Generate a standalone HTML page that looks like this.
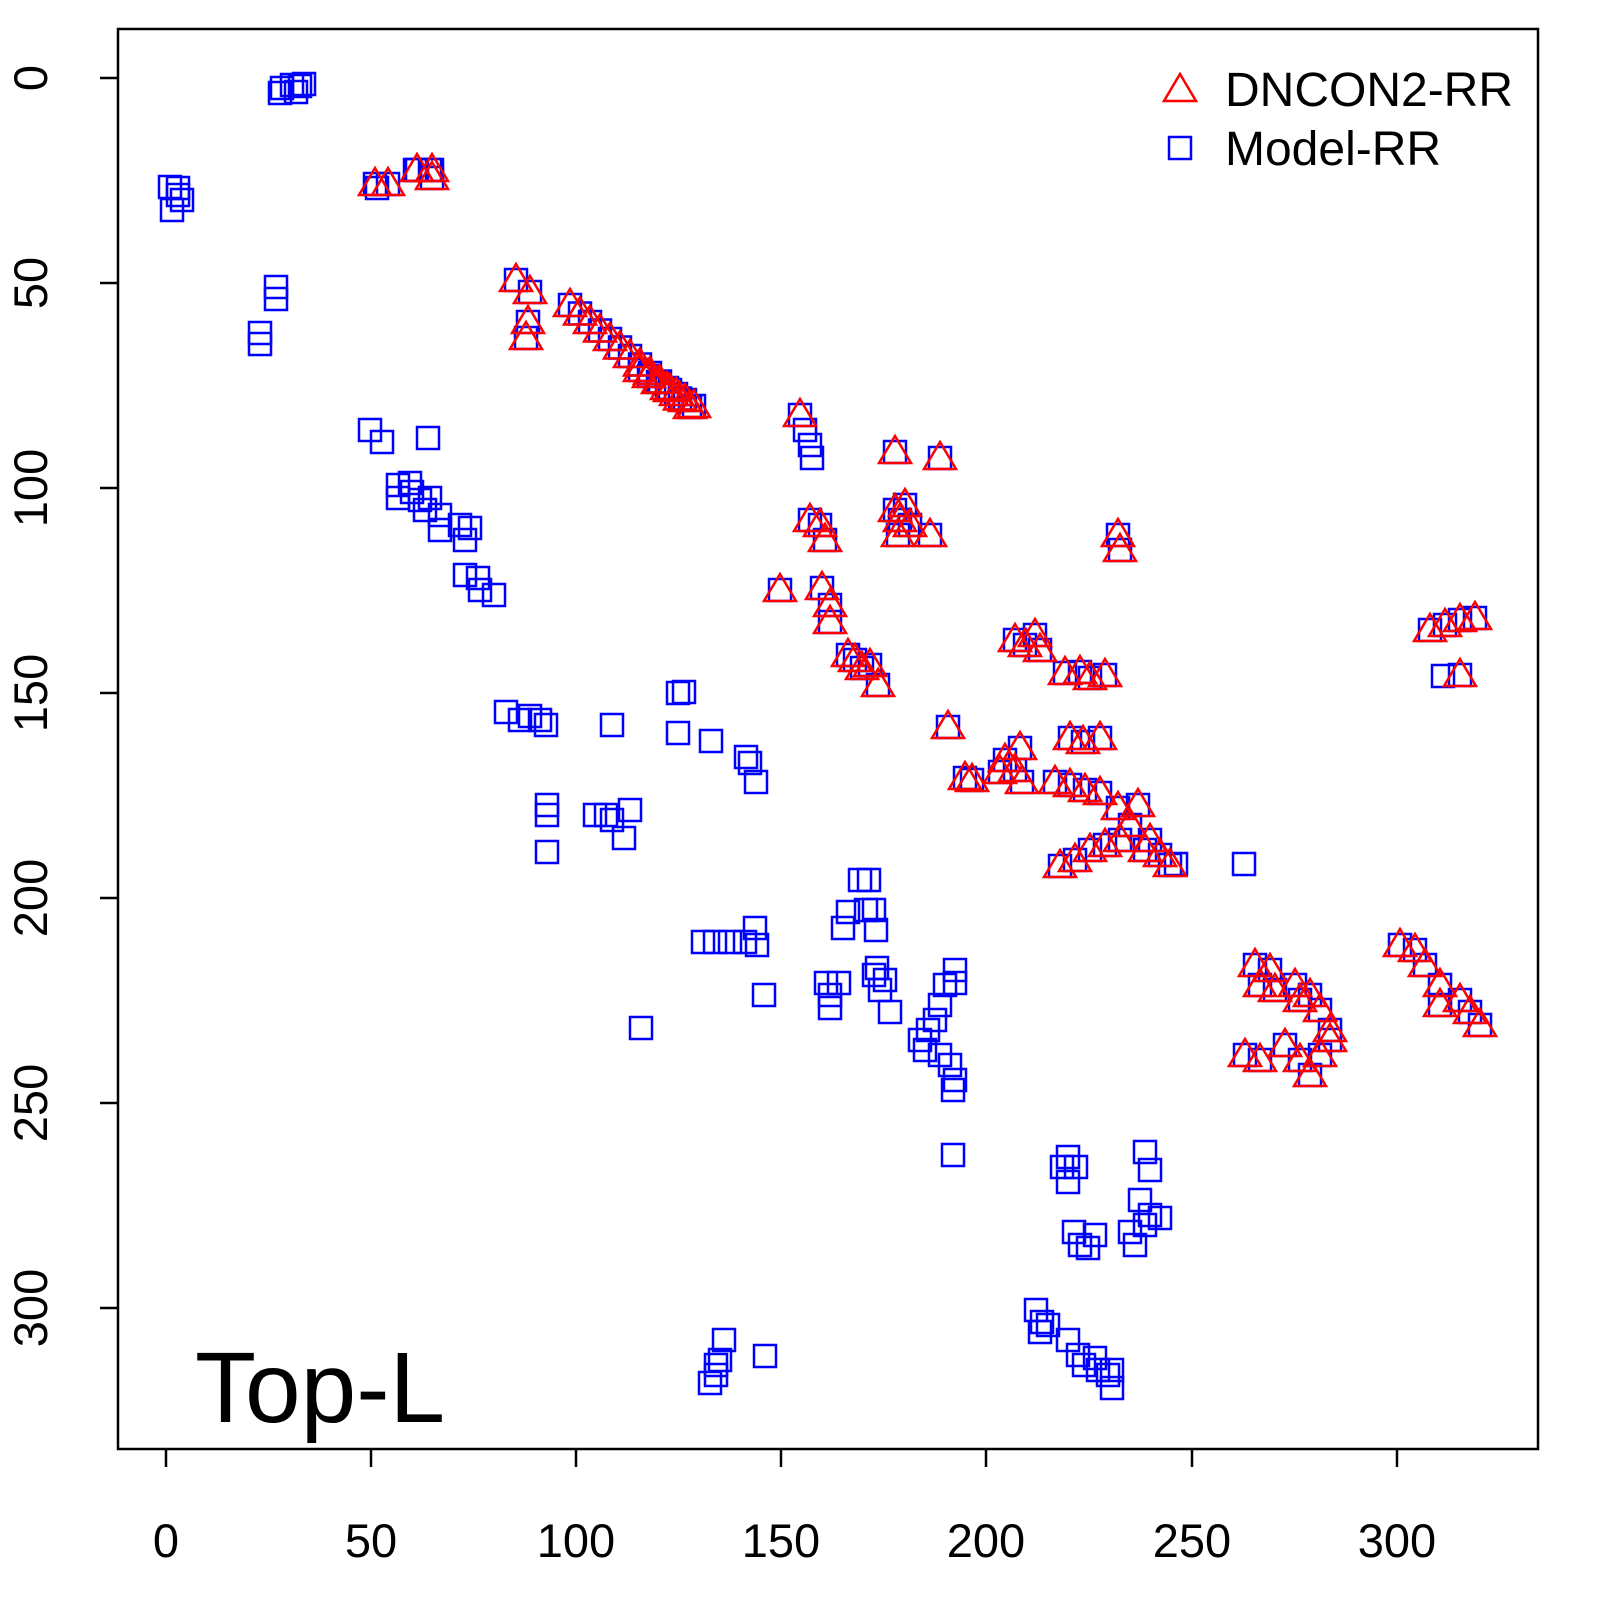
<!DOCTYPE html><html><head><style>body{margin:0;background:#fff}svg{display:block}</style></head><body>
<svg id="s" width="1600" height="1600" xmlns="http://www.w3.org/2000/svg" font-family="Liberation Sans, sans-serif">
<rect x="118" y="29" width="1420" height="1420" fill="none" stroke="#000" stroke-width="2.5"/>
<g stroke="#000" stroke-width="2.5">
<line x1="166" y1="1449" x2="166" y2="1467"/><line x1="371" y1="1449" x2="371" y2="1467"/><line x1="576" y1="1449" x2="576" y2="1467"/><line x1="781" y1="1449" x2="781" y2="1467"/><line x1="986" y1="1449" x2="986" y2="1467"/><line x1="1192" y1="1449" x2="1192" y2="1467"/><line x1="1397" y1="1449" x2="1397" y2="1467"/>
<line x1="100" y1="78" x2="118" y2="78"/><line x1="100" y1="283" x2="118" y2="283"/><line x1="100" y1="488" x2="118" y2="488"/><line x1="100" y1="693" x2="118" y2="693"/><line x1="100" y1="898" x2="118" y2="898"/><line x1="100" y1="1103" x2="118" y2="1103"/><line x1="100" y1="1308" x2="118" y2="1308"/>
</g>
<g font-size="47" text-anchor="middle">
<text x="166" y="1557">0</text><text x="371" y="1557">50</text><text x="576" y="1557">100</text><text x="781" y="1557">150</text><text x="986" y="1557">200</text><text x="1192" y="1557">250</text><text x="1397" y="1557">300</text>
<text transform="translate(47,78) rotate(-90)">0</text><text transform="translate(47,283) rotate(-90)">50</text><text transform="translate(47,488) rotate(-90)">100</text><text transform="translate(47,693) rotate(-90)">150</text><text transform="translate(47,898) rotate(-90)">200</text><text transform="translate(47,1103) rotate(-90)">250</text><text transform="translate(47,1308) rotate(-90)">300</text>
</g>
<text x="195" y="1422" font-size="100">Top-L</text>
<text x="1225" y="106" font-size="48">DNCON2-RR</text>
<text x="1225" y="165" font-size="48">Model-RR</text>
<polygon points="1180,74 1196,101 1164,101" fill="none" stroke="#f00" stroke-width="2.5"/>
<g id="b" fill="none" stroke="#00f" stroke-width="2.5"></g>
<g id="r" fill="none" stroke="#f00" stroke-width="2.5"></g>
</svg>
<script>
var B=[[170,187],[178,195],[172,210],[182,200],[178,188],[282,88],[292,85],[300,86],[296,92],[304,84],[280,93],[377,188],[415,170],[430,170],[276,287],[276,299],[260,333],[260,344],[370,430],[382,442],[428,438],[398,485],[398,498],[410,483],[412,492],[420,500],[425,510],[430,498],[440,515],[440,530],[460,525],[465,540],[470,528],[465,575],[478,578],[480,590],[494,595],[506,712],[520,720],[530,716],[540,720],[546,725],[612,725],[678,693],[684,692],[678,733],[711,741],[746,757],[750,763],[756,782],[547,805],[547,815],[547,852],[595,815],[606,815],[612,820],[624,838],[630,810],[703,942],[715,942],[730,942],[745,942],[755,928],[757,945],[764,995],[641,1028],[826,983],[830,995],[830,1008],[839,983],[843,928],[848,912],[860,880],[869,880],[866,910],[874,910],[876,930],[877,968],[880,990],[885,980],[890,1012],[874,975],[920,1040],[928,1030],[935,1020],[940,1005],[945,985],[955,970],[955,983],[925,1050],[940,1055],[950,1065],[955,1080],[953,1090],[953,1155],[1062,1167],[1068,1182],[1076,1167],[1068,1157],[1074,1232],[1080,1245],[1095,1235],[1088,1248],[1145,1152],[1150,1170],[1140,1200],[1150,1215],[1160,1218],[1130,1232],[1135,1245],[1145,1225],[1036,1310],[1042,1322],[1040,1332],[1048,1325],[1068,1340],[1078,1355],[1084,1365],[1095,1358],[1098,1370],[1108,1375],[1112,1388],[1112,1370],[710,1383],[716,1375],[720,1360],[724,1340],[716,1365],[765,1356],[1244,864],[1176,864],[1443,676],[805,430],[810,445],[812,458],[1180,148]];
var R=[[375,184],[388,184],[417,170],[432,178],[432,170],[516,280],[530,292],[528,322],[526,338],[800,415],[895,452],[940,458],[810,520],[820,525],[825,540],[895,510],[900,520],[905,505],[910,525],[898,535],[930,535],[1118,535],[1120,550],[780,590],[822,588],[830,605],[830,622],[848,655],[855,660],[862,668],[870,665],[878,685],[948,727],[965,778],[972,780],[1000,772],[1005,760],[1015,770],[1020,748],[1022,782],[1015,640],[1025,645],[1035,635],[1040,650],[1065,673],[1080,672],[1090,678],[1105,675],[1070,738],[1083,742],[1100,738],[1055,782],[1070,785],[1085,790],[1100,793],[1060,866],[1075,860],[1090,850],[1105,845],[1120,840],[1130,825],[1138,805],[1118,808],[1150,840],[1160,855],[1170,865],[1145,850],[1255,965],[1270,970],[1275,990],[1260,985],[1245,1055],[1260,1060],[1285,1045],[1300,1060],[1310,1075],[1320,1055],[1330,1040],[1295,985],[1300,1000],[1310,995],[1320,1010],[1330,1030],[1400,945],[1415,950],[1425,965],[1440,985],[1460,1000],[1470,1012],[1480,1025],[1440,1005],[1430,630],[1445,625],[1460,620],[1475,618],[1460,675]];
for(var i=0;i<=12;i++){R.push([570+i*10,305+i*8.5]);}
for(var i=0;i<=6;i++){R.push([640+i*9,370+i*6]);}
var bs='',rs='';
B.concat(R).forEach(function(p){bs+='<rect x="'+(p[0]-11)+'" y="'+(p[1]-11)+'" width="22" height="22"/>';});
R.forEach(function(p){var x=p[0],y=p[1];rs+='<polygon points="'+x+','+(y-16)+' '+(x+16)+','+(y+11)+' '+(x-16)+','+(y+11)+'"/>';});
document.getElementById('b').innerHTML=bs;document.getElementById('r').innerHTML=rs;
</script>
</body></html>
